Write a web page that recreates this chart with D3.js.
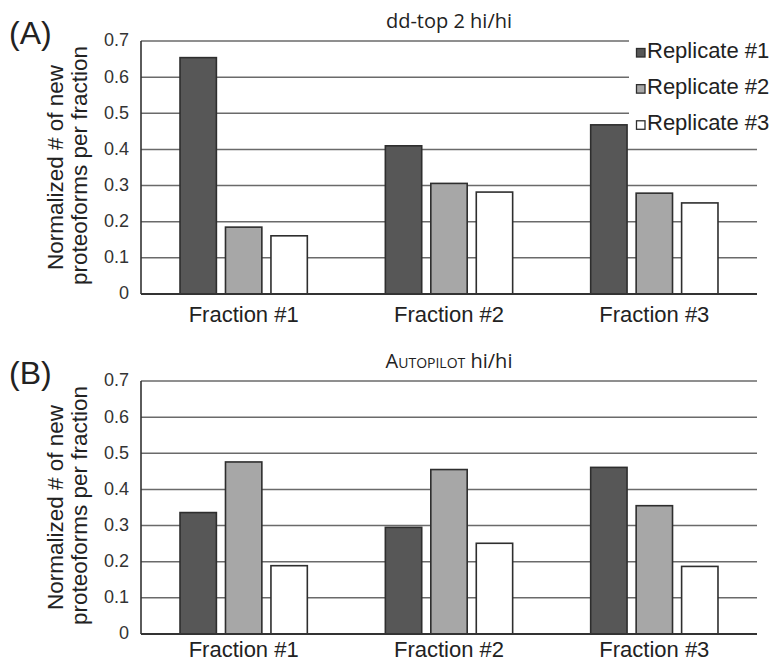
<!DOCTYPE html>
<html>
<head>
<meta charset="utf-8">
<script src="https://cdn.jsdelivr.net/npm/d3@7"></script>
<style>
  html, body { margin: 0; padding: 0; background: #fff; }
  svg { display: block; }
  text { font-family: "Liberation Sans", Arial, Helvetica, sans-serif; fill: #222; }
</style>
</head>
<body>
<svg id="chart" width="771" height="663"></svg>
<script>
// ---- data ----
const categories = ["Fraction #1", "Fraction #2", "Fraction #3"];
const series = ["Replicate #1", "Replicate #2", "Replicate #3"];
const yTicks = [0, 0.1, 0.2, 0.3, 0.4, 0.5, 0.6, 0.7];

// panel A: dd-top 2 hi/hi
const panelA_rep1 = [0.654, 0.410, 0.468];
const panelA_rep2 = [0.185, 0.306, 0.279];
const panelA_rep3 = [0.161, 0.282, 0.252];

// panel B: Autopilot hi/hi
const panelB_rep1 = [0.336, 0.295, 0.461];
const panelB_rep2 = [0.476, 0.455, 0.355];
const panelB_rep3 = [0.189, 0.251, 0.187];

const colors = ["#575757", "#a7a7a7", "#ffffff"];

const svg = d3.select("#chart");

const left = 141, right = 757;

function drawPanel(cfg) {
  const g = svg.append("g");
  const y = d3.scaleLinear().domain([0, 0.7]).range([cfg.bottom, cfg.top]);
  const x0 = d3.scaleBand().domain(categories).range([left, right]).padding(0);
  const bw = x0.bandwidth();
  const x1 = d3.scaleBand().domain(series).range([bw * 0.19, bw * 0.81]).paddingInner(0.2).paddingOuter(0);

  // gridlines
  g.append("g").selectAll("line").data(yTicks.filter(t => t > 0)).join("line")
    .attr("x1", left)
    .attr("x2", d => (cfg.legend && d >= 0.5) ? 629 : right)
    .attr("y1", d => y(d)).attr("y2", d => y(d))
    .attr("stroke", "#6a6a6a").attr("stroke-width", 1.5);

  // tick labels
  g.append("g").selectAll("text").data(yTicks).join("text")
    .attr("x", 129).attr("y", d => y(d)).attr("dy", "0.3em")
    .attr("text-anchor", "end").attr("font-size", 18).style("fill", "#333")
    .text(d => d === 0 ? "0" : d3.format(".1f")(d));

  // bars
  const rows = categories.map((c, i) => ({ cat: c, vals: cfg.values.map(v => v[i]) }));
  const grp = g.append("g").selectAll("g").data(rows).join("g")
    .attr("transform", d => `translate(${x0(d.cat)},0)`);
  grp.selectAll("rect").data(d => d.vals.map((v, j) => ({ s: series[j], v, j }))).join("rect")
    .attr("x", d => x1(d.s)).attr("width", x1.bandwidth())
    .attr("y", d => y(d.v)).attr("height", d => y(0) - y(d.v))
    .attr("fill", d => colors[d.j]).attr("stroke", "#2e2e2e").attr("stroke-width", 1.6);

  // axes lines
  g.append("line").attr("x1", left).attr("x2", left).attr("y1", y(0.7)).attr("y2", y(0))
    .attr("stroke", "#333").attr("stroke-width", 1.6);
  g.append("line").attr("x1", left).attr("x2", right).attr("y1", y(0)).attr("y2", y(0))
    .attr("stroke", "#333").attr("stroke-width", 2);

  // category labels
  g.append("g").selectAll("text").data(categories).join("text")
    .attr("x", d => x0(d) + bw / 2).attr("y", y(0) + cfg.catDy)
    .attr("text-anchor", "middle").attr("font-size", 22)
    .text(d => d);

  // y axis label (two lines)
  const cy = (cfg.top + cfg.bottom) / 2;
  g.append("text").attr("transform", `translate(63,${cy}) rotate(-90)`)
    .attr("text-anchor", "middle").attr("font-size", 22.5).text("Normalized # of new");
  g.append("text").attr("transform", `translate(87,${cy - 2}) rotate(-90)`)
    .attr("text-anchor", "middle").attr("font-size", 22.5).text("proteoforms per fraction");

  // panel letter
  g.append("text").attr("x", 9).attr("y", cfg.top + 3).attr("font-size", 32).text(cfg.letter);

  // title
  const t = g.append("text").attr("x", (left + right) / 2).attr("y", cfg.top - 13)
    .attr("text-anchor", "middle")
    .style("font-family", "'Open Sans', 'Noto Sans', sans-serif");
  cfg.title.forEach(p => t.append("tspan").attr("font-size", p.size).text(p.text));

  // legend
  if (cfg.legend) {
    const step = y(0.6) - y(0.7);
    const lg = g.append("g").selectAll("g").data(series).join("g")
      .attr("transform", (d, i) => `translate(636.5,${y(0.7) + 7.5 + i * step})`);
    lg.append("rect").attr("width", 8.5).attr("height", 8.5)
      .attr("fill", (d, i) => colors[i]).attr("stroke", "#2e2e2e").attr("stroke-width", 1.3);
    lg.append("text").attr("x", 10.5).attr("y", 9.5).attr("font-size", 22).text(d => d);
  }
}

drawPanel({
  top: 41, bottom: 294, letter: "(A)", legend: true, catDy: 28,
  values: [panelA_rep1, panelA_rep2, panelA_rep3],
  title: [{ text: "dd-top 2 hi/hi", size: 20 }]
});

drawPanel({
  top: 381, bottom: 634, letter: "(B)", legend: false, catDy: 23,
  values: [panelB_rep1, panelB_rep2, panelB_rep3],
  title: [{ text: "A", size: 20 }, { text: "UTOPILOT", size: 14 }, { text: " hi/hi", size: 20 }]
});
</script>
</body>
</html>
